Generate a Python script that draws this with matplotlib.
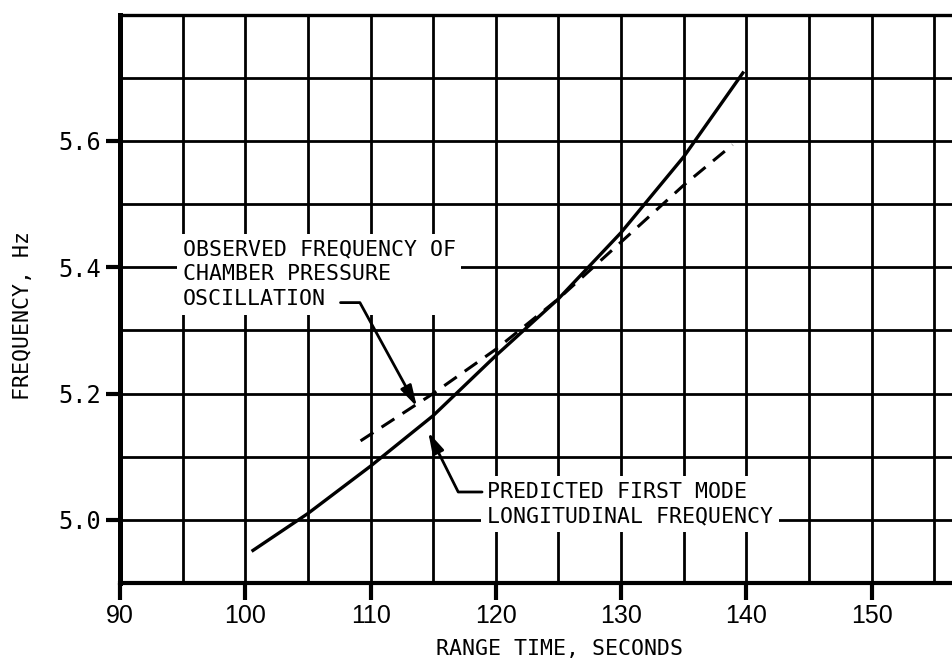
import matplotlib
matplotlib.use("Agg")
import matplotlib.pyplot as plt
import numpy as np

# Data
predicted_t = [100.5, 105, 110, 115, 120, 125, 130, 135, 139.8]
predicted_f = [4.95, 5.01, 5.085, 5.165, 5.26, 5.35, 5.455, 5.575, 5.71]
observed_t = [109.2, 115, 120, 125, 130, 135, 138.9]
observed_f = [5.125, 5.20, 5.27, 5.35, 5.44, 5.53, 5.594]

x_ticks = [90, 100, 110, 120, 130, 140, 150]
y_ticks = [5.0, 5.2, 5.4, 5.6]
y_tick_labels = ["5.0", "5.2", "5.4", "5.6"]

MONO = ["DejaVu Sans Mono"]
SANS = ["Liberation Sans", "DejaVu Sans"]

fig = plt.figure(figsize=(9.53, 6.70), dpi=100)
ax = fig.add_axes([0.126, 0.13, 0.874, 0.848])
ax.set_xlim(90, 156.5)
ax.set_ylim(4.9, 5.8)

# grid (minor + major so every 5 s / 0.1 Hz line is drawn)
ax.set_xticks(np.arange(90, 156, 5), minor=True)
ax.set_yticks(np.arange(4.9, 5.85, 0.1), minor=True)
ax.grid(which="both", color="black", linewidth=2.0)
ax.tick_params(which="minor", length=0)
ax.set_axisbelow(True)

ax.set_xticks(x_ticks)
ax.set_xticklabels([str(v) for v in x_ticks], fontsize=18, family=SANS)
ax.set_yticks(y_ticks)
ax.set_yticklabels(y_tick_labels, fontsize=17, family=MONO)
ax.tick_params(axis="x", which="major", length=12, width=3, direction="out", pad=3)
ax.tick_params(axis="y", which="major", length=10, width=3, direction="out", pad=4)

ax.spines["left"].set_linewidth(3.6)
ax.spines["bottom"].set_linewidth(3.0)
ax.spines["top"].set_linewidth(2.4)
ax.spines["right"].set_visible(False)

ax.plot(predicted_t, predicted_f, color="black", linewidth=2.4, solid_capstyle="butt")
ax.plot(observed_t, observed_f, color="black", linewidth=2.2, linestyle=(0, (5, 3.2)))

ax.set_xlabel("RANGE TIME, SECONDS", fontsize=15.5, family=MONO)
ax.xaxis.set_label_coords(0.528, -0.098)
ax.set_ylabel("FREQUENCY, Hz", fontsize=15.5, family=MONO)
ax.yaxis.set_label_coords(-0.104, 0.47)

box = dict(facecolor="white", edgecolor="none", pad=4)
ax.text(95.0, 5.444, "OBSERVED FREQUENCY OF\nCHAMBER PRESSURE\nOSCILLATION",
        fontsize=15.5, family=MONO, ha="left", va="top", linespacing=1.3, bbox=box, zorder=3)
ax.text(119.3, 5.06, "PREDICTED FIRST MODE\nLONGITUDINAL FREQUENCY",
        fontsize=15.5, family=MONO, ha="left", va="top", linespacing=1.3, bbox=box, zorder=3)

arrow = dict(arrowstyle="-|>,head_length=0.9,head_width=0.25", color="black", lw=2.0,
             shrinkA=0, shrinkB=0, mutation_scale=14)
ax.annotate("", xy=(113.7, 5.179), xytext=(107.6, 5.344),
            arrowprops=dict(arrow, connectionstyle="angle,angleA=0,angleB=118.7,rad=0"), zorder=4)
ax.annotate("", xy=(114.6, 5.139), xytext=(118.9, 5.044),
            arrowprops=dict(arrow, connectionstyle="angle,angleA=0,angleB=116.6,rad=0"), zorder=4)

fig.savefig("out.png", dpi=100)
